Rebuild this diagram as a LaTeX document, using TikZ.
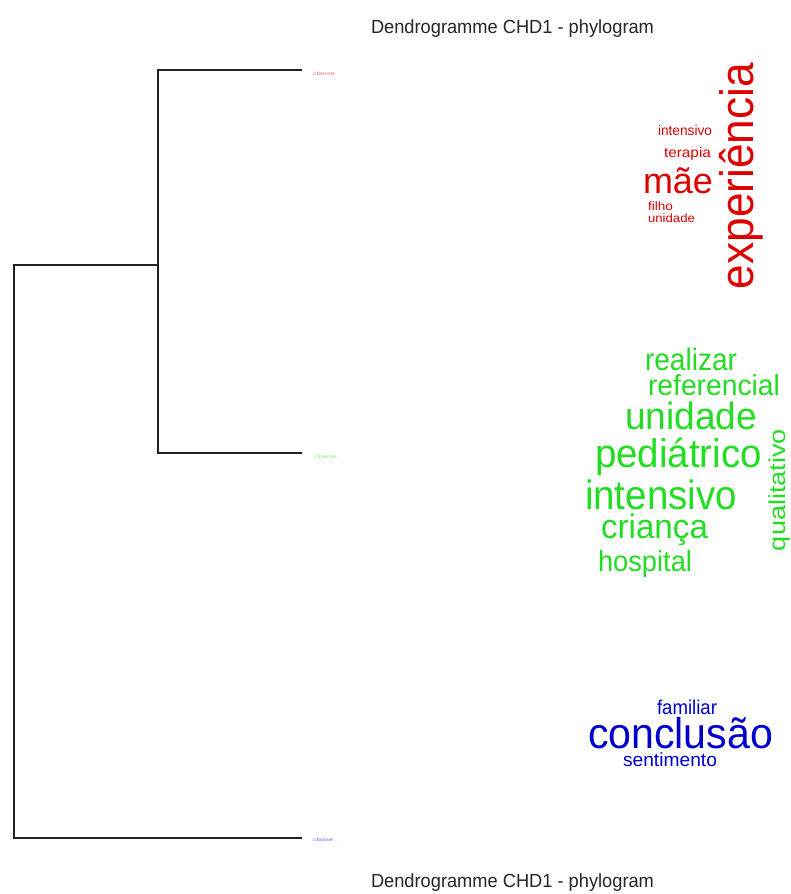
\documentclass[tikz,border=0pt]{standalone}
\usepackage{fontspec}
\usepackage{graphicx}
\setmainfont{Liberation Sans}
\definecolor{cred}{HTML}{DD0000}
\definecolor{cgreen}{HTML}{22DD22}
\definecolor{cblue}{HTML}{0000CC}
\definecolor{tree}{HTML}{222222}
\newcommand{\wrd}[3]{\resizebox{#2pt}{\height}{\fontsize{#1pt}{#1pt}\selectfont #3}}
\tikzset{
  wd/.style={inner sep=0pt, outer sep=0pt, anchor=base west},
  vwd/.style={inner sep=0pt, outer sep=0pt, anchor=base west, rotate=90},
  branch/.style={draw=tree, line width=1.2pt},
}
\begin{document}
\begin{tikzpicture}[x=1pt,y=-1pt]
\useasboundingbox (0,0) rectangle (791,894);
\fill[white] (0,0) rectangle (791,894);
% titles
\node[wd, text=black!85] (t1) at (371,33) {\wrd{19}{283}{Dendrogramme CHD1 - phylogram}};
\node[wd, text=black!85] (t2) at (371,887) {\wrd{19}{283}{Dendrogramme CHD1 - phylogram}};
% tree coordinates
\coordinate (root) at (14,265);
\coordinate (rootb) at (14,838);
\coordinate (inner) at (158,265);
\coordinate (innert) at (158,70);
\coordinate (innerb) at (158,453);
\coordinate (l1) at (302,70);
\coordinate (l2) at (302,453);
\coordinate (l3) at (302,838);
\draw[branch] (l1) -- (innert) -- (innerb) -- (l2);
\draw[branch] (inner) -- (root) -- (rootb) -- (l3);
% leaf labels
\node[wd, text=cred!55] (c1) at (313,75) {\wrd{5}{22}{classe}};
\node[wd, text=cgreen!55] (c2) at (315,458) {\wrd{5}{22}{classe}};
\node[wd, text=cblue!55] (c3) at (313,841) {\wrd{5}{24}{classe .}};
% red cloud
\node[wd, text=cred] (r1) at (658,135) {\wrd{14}{54}{intensivo}};
\node[wd, text=cred] (r2) at (664,157) {\wrd{14}{47}{terapia}};
\node[wd, text=cred] (r3) at (643,193) {\wrd{36}{70}{mãe}};
\node[wd, text=cred] (r4) at (648,210) {\wrd{12}{25}{filho}};
\node[wd, text=cred] (r5) at (648,222) {\wrd{12}{47}{unidade}};
\node[vwd, text=cred] (r6) at (753,289) {\wrd{47}{226}{experiência}};
% green cloud
\node[wd, text=cgreen] (g1) at (645,370) {\wrd{31}{92}{realizar}};
\node[wd, text=cgreen] (g2) at (648,395) {\wrd{29}{132}{referencial}};
\node[wd, text=cgreen] (g3) at (625,429) {\wrd{38}{132}{unidade}};
\node[wd, text=cgreen] (g4) at (595,467) {\wrd{40}{167}{pediátrico}};
\node[wd, text=cgreen] (g5) at (585,509) {\wrd{41}{152}{intensivo}};
\node[wd, text=cgreen] (g6) at (601,538) {\wrd{34}{107}{criança}};
\node[wd, text=cgreen] (g7) at (598,571) {\wrd{29}{94}{hospital}};
\node[vwd, text=cgreen] (g8) at (785,551) {\wrd{23}{122}{qualitativo}};
% blue cloud
\node[wd, text=cblue] (b1) at (657,714) {\wrd{20}{60}{familiar}};
\node[wd, text=cblue] (b2) at (588,748) {\wrd{43}{185}{conclusão}};
\node[wd, text=cblue] (b3) at (623,766) {\wrd{19}{94}{sentimento}};
\end{tikzpicture}
\end{document}
